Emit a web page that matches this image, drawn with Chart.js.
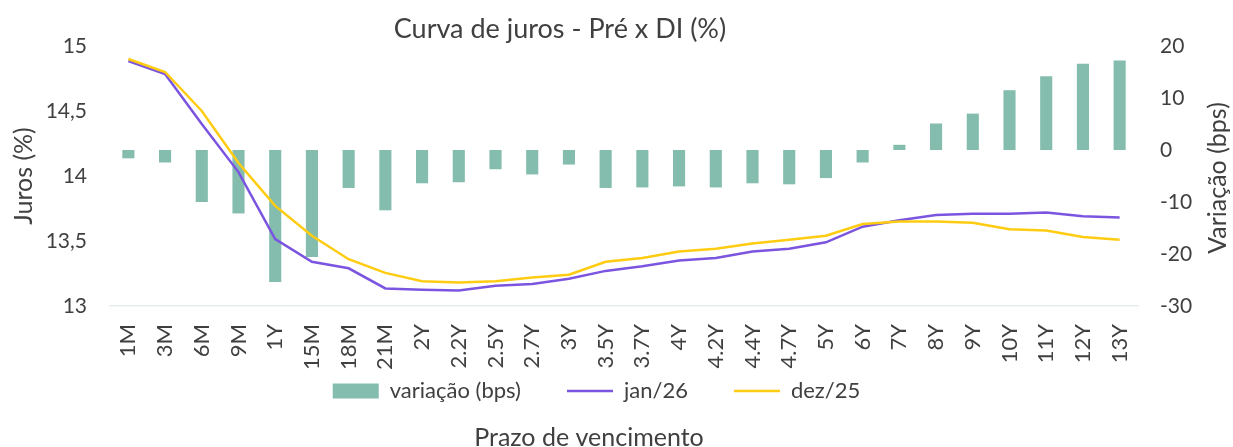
<!DOCTYPE html>
<html>
<head>
<meta charset="utf-8">
<script src="https://cdn.jsdelivr.net/npm/chart.js@4"></script>
<style>
  html, body { margin: 0; padding: 0; background: #fff; }
  #wrap { width: 1233px; height: 447px; }
</style>
</head>
<body>
<div id="wrap"><canvas id="curveChart"></canvas></div>
<script>
const labels = ['1M','3M','6M','9M','1Y','15M','18M','21M','2Y','2.2Y','2.5Y','2.7Y','3Y','3.5Y',
  '3.7Y','4Y','4.2Y','4.4Y','4.7Y','5Y','6Y','7Y','8Y','9Y','10Y','11Y','12Y','13Y'];

// variação em bps (eixo direito)
const variacao = [-1.6, -2.4, -10.0, -12.2, -25.4, -20.6, -7.3, -11.6, -6.4, -6.2, -3.7, -4.7, -2.8, -7.3,
  -7.2, -7.0, -7.2, -6.4, -6.6, -5.4, -2.4, 1.0, 5.1, 7.0, 11.5, 14.2, 16.6, 17.2];

// curvas (eixo esquerdo, %)
const jan26 = [14.885, 14.785, 14.40, 14.03, 13.515, 13.34, 13.29, 13.135, 13.125, 13.12, 13.155, 13.17, 13.21, 13.27,
  13.305, 13.35, 13.37, 13.42, 13.44, 13.49, 13.61, 13.66, 13.70, 13.71, 13.71, 13.72, 13.69, 13.68];
const dez25 = [14.90, 14.80, 14.50, 14.10, 13.77, 13.54, 13.36, 13.255, 13.19, 13.18, 13.19, 13.22, 13.24, 13.34,
  13.37, 13.42, 13.44, 13.48, 13.51, 13.54, 13.63, 13.65, 13.65, 13.64, 13.59, 13.58, 13.53, 13.51];

const jurosTicks = [13, 13.5, 14, 14.5, 15];
const bpsTicks = [-30, -20, -10, 0, 10, 20];

const FONT = 'Lato, "Noto Sans", sans-serif';
const TXT = '#404040';

// titulo e titulos de eixo desenhados a mao (direito lido de baixo pra cima, x abaixo da legenda)
const axisTitles = {
  id: 'axisTitles',
  afterLayout(chart) {
    // legenda sobe pra ficar logo abaixo dos rotulos do eixo x
    const lg = chart.legend;
    lg.top -= 38;
    lg.left -= 20;
    lg.right -= 20;
  },
  afterDraw(chart) {
    const ctx = chart.ctx;
    ctx.save();
    ctx.fillStyle = TXT;
    ctx.textAlign = 'center';
    ctx.textBaseline = 'middle';
    ctx.font = '27px ' + FONT;
    ctx.fillText('Curva de juros - Pré x DI (%)', 560, 29);
    ctx.font = '25px ' + FONT;
    ctx.save();
    ctx.translate(24, 176);
    ctx.rotate(-Math.PI / 2);
    ctx.fillText('Juros (%)', 0, 0);
    ctx.restore();
    ctx.save();
    ctx.translate(1218, 178);
    ctx.rotate(-Math.PI / 2);
    ctx.fillText('Variação (bps)', 0, 0);
    ctx.restore();
    ctx.fillText('Prazo de vencimento', 589, 438);
    ctx.restore();
  }
};

new Chart(document.getElementById('curveChart'), {
  data: {
    labels: labels,
    datasets: [
      {
        type: 'bar',
        label: 'variação (bps)',
        data: variacao,
        yAxisID: 'yR',
        backgroundColor: '#84BDAD',
        barPercentage: 0.33,
        categoryPercentage: 1,
        pointStyle: 'rect',
        order: 2
      },
      {
        type: 'line',
        label: 'jan/26',
        data: jan26,
        yAxisID: 'yL',
        borderColor: '#7B55E0',
        backgroundColor: '#7B55E0',
        borderWidth: 2.5,
        pointRadius: 0,
        tension: 0,
        pointStyle: 'line',
        order: 1
      },
      {
        type: 'line',
        label: 'dez/25',
        data: dez25,
        yAxisID: 'yL',
        borderColor: '#FFCC12',
        backgroundColor: '#FFCC12',
        borderWidth: 2.5,
        pointRadius: 0,
        tension: 0,
        pointStyle: 'line',
        order: 0
      }
    ]
  },
  options: {
    responsive: true,
    maintainAspectRatio: false,
    animation: false,
    layout: { padding: { left: 0, right: 0, top: 46, bottom: 35 } },
    plugins: {
      tooltip: { enabled: false },
      title: { display: false },
      legend: {
        position: 'bottom',
        maxHeight: 40,
        labels: {
          usePointStyle: true,
          pointStyleWidth: 46,
          boxHeight: 15,
          padding: 46,
          color: TXT,
          font: { family: FONT, size: 22 },
          sort: (a, b) => a.datasetIndex - b.datasetIndex
        }
      }
    },
    scales: {
      x: {
        grid: { display: false, drawTicks: false },
        border: { color: '#E4EEEB', width: 1.5 },
        ticks: {
          color: TXT,
          font: { family: FONT, size: 22 },
          minRotation: 90,
          maxRotation: 90,
          autoSkip: false,
          padding: 18
        },
        afterFit(scale) { scale.height = 66; }
      },
      yL: {
        position: 'left',
        min: 13,
        max: 15,
        grid: { display: false, drawTicks: false },
        border: { display: false },
        afterBuildTicks(scale) { scale.ticks = jurosTicks.map(v => ({ value: v })); },
        ticks: {
          color: TXT,
          font: { family: FONT, size: 21 },
          padding: 23,
          callback: v => String(v).replace('.', ',')
        },
        afterFit(scale) { scale.width = 110; }
      },
      yR: {
        position: 'right',
        min: -30,
        max: 20,
        grid: { display: false, drawTicks: false },
        border: { display: false },
        afterBuildTicks(scale) { scale.ticks = bpsTicks.map(v => ({ value: v })); },
        ticks: {
          color: TXT,
          font: { family: FONT, size: 21 },
          padding: 22
        },
        afterFit(scale) { scale.width = 95; }
      }
    }
  },
  plugins: [axisTitles]
});
</script>
</body>
</html>
